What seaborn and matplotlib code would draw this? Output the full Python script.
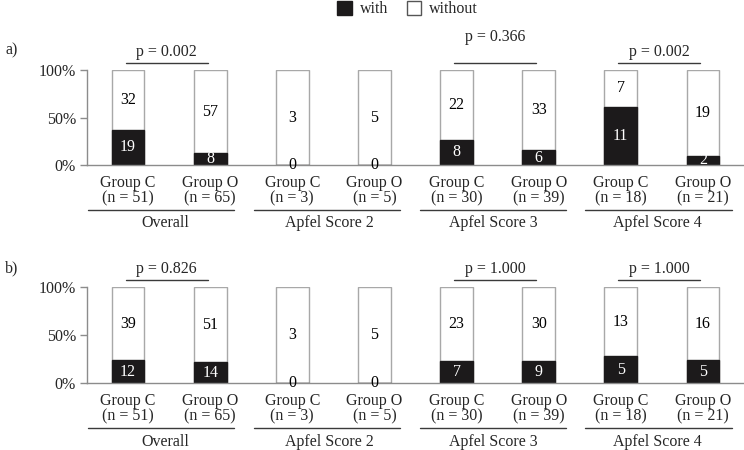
import matplotlib
matplotlib.use("Agg")
import matplotlib.pyplot as plt
from matplotlib.patches import Patch
import seaborn as sns
import pandas as pd
import numpy as np

# ---- data ----
groups = ["Group C", "Group O"] * 4
n_labels = ["(n = 51)", "(n = 65)", "(n = 3)", "(n = 5)",
            "(n = 30)", "(n = 39)", "(n = 18)", "(n = 21)"]
strata = ["Overall", "Apfel Score 2", "Apfel Score 3", "Apfel Score 4"]
with_a = [19, 8, 0, 0, 8, 6, 11, 2]
without_a = [32, 57, 3, 5, 22, 33, 7, 19]
with_b = [12, 14, 0, 0, 7, 9, 5, 5]
without_b = [39, 51, 3, 5, 23, 30, 13, 16]
pvals_a = {0: "p = 0.002", 2: "p = 0.366", 3: "p = 0.002"}
pvals_b = {0: "p = 0.826", 2: "p = 1.000", 3: "p = 1.000"}

sns.set_theme(style="white")
plt.rcParams["font.family"] = ["Liberation Serif", "DejaVu Serif"]
FS = 11.5
plt.rcParams["font.size"] = FS

BLACK = "#1c1a1b"
EDGE = "#a8a8a8"
SPINE = "#8c8c8c"
LINE = "#3a3a3a"

fig = plt.figure(figsize=(7.44, 4.5), dpi=100)
ax_a = fig.add_axes([87 / 744, 1 - 165 / 450, 1 - 87 / 744, 95 / 450])
ax_b = fig.add_axes([87 / 744, 1 - 383 / 450, 1 - 87 / 744, 96 / 450])

keys = [f"{s}|{g}" for s in strata for g in ["Group C", "Group O"]]


def draw(ax, w, wo, pvals, ptext_y):
    tot = np.array(w) + np.array(wo)
    pw = np.array(w) / tot * 100
    df = pd.DataFrame({"key": keys, "total": 100.0, "with": pw})
    sns.barplot(data=df, x="key", y="total", order=keys, color="white",
                edgecolor=EDGE, linewidth=1.0, width=0.4, ax=ax,
                saturation=1)
    sns.barplot(data=df, x="key", y="with", order=keys, color=BLACK,
                edgecolor=BLACK, linewidth=1.0, width=0.4, ax=ax,
                saturation=1)
    for i in range(len(keys)):
        ax.text(i, pw[i] / 2, str(w[i]), ha="center", va="center",
                color="white" if w[i] > 0 else "black", fontsize=FS)
        ax.text(i, (pw[i] + 100) / 2, str(wo[i]), ha="center", va="center",
                color="black", fontsize=FS)
    ax.set_xlim(-0.5, 7.5)
    ax.set_ylim(0, 100)
    ax.set_yticks([0, 50, 100])
    ax.set_yticklabels(["0%", "50%", "100%"])
    ax.set_xticks([])
    ax.set_xlabel("")
    ax.set_ylabel("")
    ax.tick_params(axis="y", which="both", left=True, length=5, width=1,
                   color=SPINE, pad=3, labelsize=FS)
    for s in ["top", "right"]:
        ax.spines[s].set_visible(False)
    for s in ["left", "bottom"]:
        ax.spines[s].set_color(SPINE)
        ax.spines[s].set_linewidth(1.0)
    trans = ax.get_xaxis_transform()
    for i in range(len(keys)):
        ax.text(i, -0.185, groups[i], ha="center", va="center",
                transform=trans, fontsize=FS, clip_on=False)
        ax.text(i, -0.35, n_labels[i], ha="center", va="center",
                transform=trans, fontsize=FS, clip_on=False)
    for j, s in enumerate(strata):
        x0 = 2 * j - 0.49 + 0.02 * j
        ax.plot([x0, x0 + 1.78], [-0.472, -0.472], color=LINE, lw=1.0,
                transform=trans, clip_on=False)
        ax.text(2 * j + 0.45, -0.615, s, ha="center", va="center",
                transform=trans, fontsize=FS, clip_on=False)
    for j, t in pvals.items():
        x0 = 2 * j - 0.03
        ax.plot([x0, x0 + 1.0], [107, 107], color=LINE, lw=1.0, clip_on=False)
        ax.text(x0 + 0.5, ptext_y.get(j, 118.5), t, ha="center", va="center",
                fontsize=FS, clip_on=False)


draw(ax_a, with_a, without_a, pvals_a, {2: 135})
draw(ax_b, with_b, without_b, pvals_b, {})

fig.text(5 / 744, 1 - 50 / 450, "a)", ha="left", va="center", fontsize=FS)
fig.text(5 / 744, 1 - 268 / 450, "b)", ha="left", va="center", fontsize=FS)

handles = [Patch(facecolor=BLACK, edgecolor=BLACK, label="with"),
           Patch(facecolor="white", edgecolor="#555555", label="without")]
fig.legend(handles=handles, loc="center", bbox_to_anchor=(0.548, 1 - 9 / 450),
           ncol=2, frameon=False, fontsize=FS, handlelength=0.9,
           handleheight=1.0, handletextpad=0.5, columnspacing=1.2,
           borderpad=0.1)

fig.savefig("out.png", dpi=100)
